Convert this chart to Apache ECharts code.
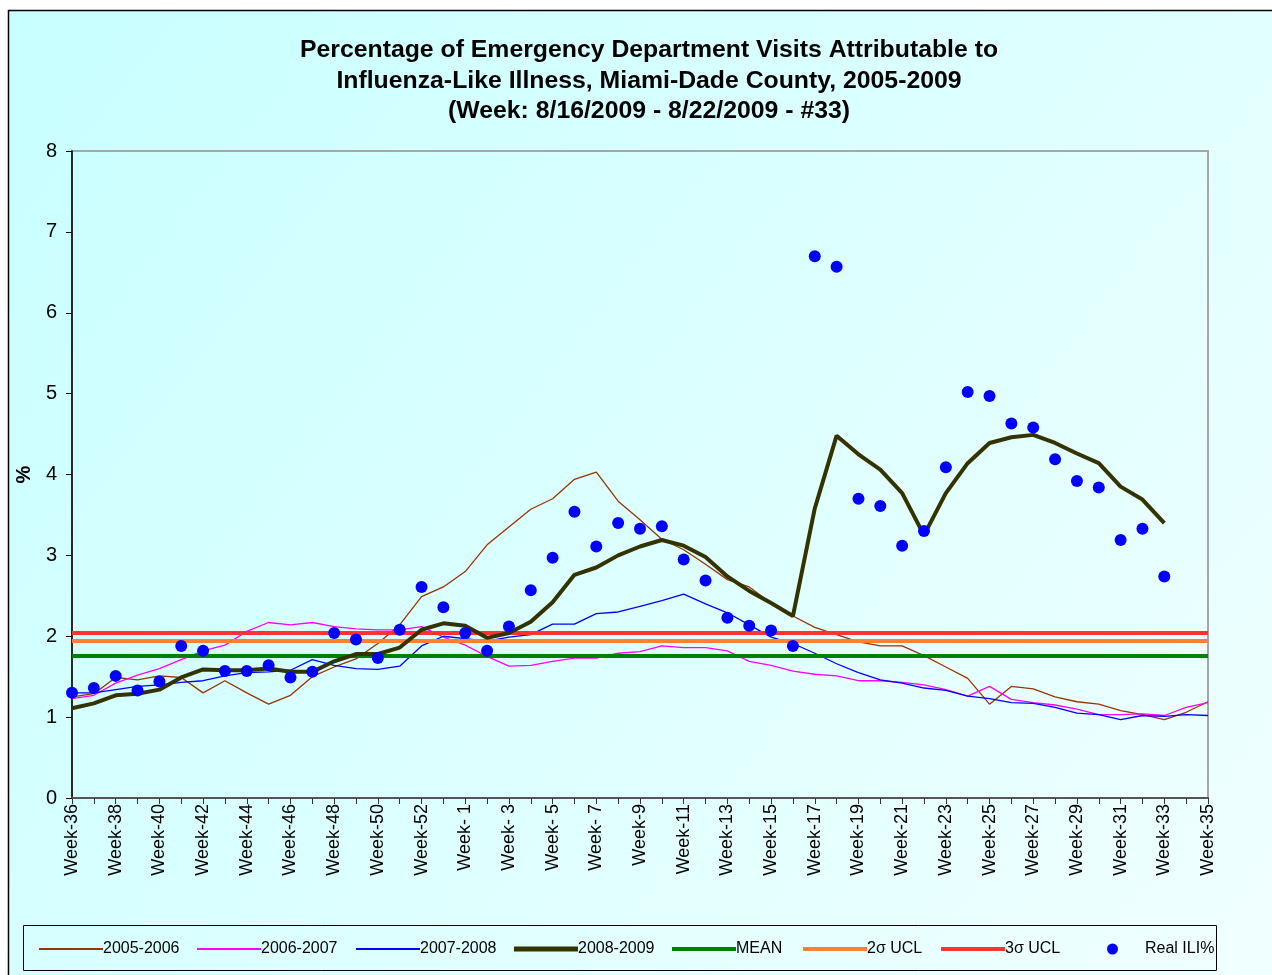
<!DOCTYPE html>
<html>
<head>
<meta charset="utf-8">
<script src="https://cdn.jsdelivr.net/npm/echarts@6/dist/echarts.min.js"></script>
<style>
html,body{margin:0;padding:0;background:#fff;}
#c{width:1272px;height:975px;}
</style>
</head>
<body>
<div id="c"></div>
<script>
const weeks = ['Week-36','Week-37','Week-38','Week-39','Week-40','Week-41','Week-42','Week-43','Week-44','Week-45','Week-46','Week-47','Week-48','Week-49','Week-50','Week-51','Week-52','Week-53',
'Week- 1','Week- 2','Week- 3','Week- 4','Week- 5','Week- 6','Week- 7','Week- 8','Week-9','Week-10','Week-11','Week-12','Week-13','Week-14','Week-15','Week-16','Week-17','Week-18','Week-19','Week-20','Week-21','Week-22','Week-23','Week-24','Week-25','Week-26','Week-27','Week-28','Week-29','Week-30','Week-31','Week-32','Week-33','Week-34','Week-35'];

const s0506 = [1.25,1.29,1.49,1.46,1.51,1.49,1.30,1.45,1.30,1.16,1.27,1.50,1.62,1.72,1.91,2.14,2.49,2.61,2.80,3.13,3.35,3.57,3.70,3.94,4.03,3.67,3.44,3.20,3.07,2.89,2.70,2.61,2.41,2.25,2.11,2.02,1.93,1.88,1.88,1.76,1.62,1.48,1.16,1.38,1.35,1.25,1.19,1.16,1.08,1.03,0.97,1.06,1.19];
const s0607 = [1.23,1.27,1.42,1.52,1.60,1.71,1.82,1.89,2.06,2.17,2.14,2.17,2.12,2.09,2.08,2.08,2.12,1.99,1.89,1.75,1.63,1.64,1.69,1.73,1.73,1.79,1.81,1.88,1.86,1.86,1.82,1.69,1.64,1.57,1.53,1.51,1.45,1.45,1.43,1.40,1.34,1.26,1.38,1.22,1.18,1.15,1.10,1.03,1.03,1.04,1.02,1.12,1.18];
const s0708 = [1.30,1.30,1.34,1.38,1.40,1.43,1.45,1.51,1.55,1.56,1.58,1.71,1.64,1.60,1.59,1.63,1.88,2.00,1.97,1.94,1.99,2.02,2.15,2.15,2.28,2.30,2.37,2.44,2.52,2.40,2.29,2.14,1.99,1.91,1.79,1.66,1.55,1.46,1.42,1.36,1.33,1.26,1.23,1.18,1.17,1.12,1.05,1.03,0.97,1.02,1.01,1.03,1.02];
const s0809 = [1.11,1.17,1.27,1.29,1.34,1.49,1.59,1.58,1.58,1.60,1.56,1.56,1.69,1.78,1.78,1.86,2.08,2.16,2.13,1.98,2.04,2.18,2.42,2.76,2.85,3.00,3.11,3.19,3.12,2.98,2.74,2.56,2.41,2.25,3.58,4.48,4.25,4.06,3.77,3.25,3.77,4.14,4.39,4.46,4.49,4.39,4.26,4.14,3.85,3.69,3.40,null,null];
const realILI = [1.30,1.36,1.51,1.33,1.44,1.88,1.82,1.57,1.57,1.64,1.49,1.56,2.04,1.96,1.73,2.08,2.61,2.36,2.04,1.82,2.12,2.57,2.97,3.54,3.11,3.40,3.33,3.36,2.95,2.69,2.23,2.13,2.07,1.88,6.70,6.57,3.70,3.61,3.12,3.30,4.09,5.02,4.97,4.63,4.58,4.19,3.92,3.84,3.19,3.33,2.74,null,null];
const meanVal = 1.76;
const ucl2 = 1.94;
const ucl3 = 2.04;
const yTicks = [0,1,2,3,4,5,6,7,8];

const FONT = 'Arial, "Liberation Sans", sans-serif';
const chart = echarts.init(document.getElementById('c'), null, {renderer:'canvas'});

function hline(name, val, color, width, z){
  return {
    name: name, type:'line', data: [], symbol:'none', z: z,
    lineStyle:{color:color, width:width}, itemStyle:{color:color},
    markLine:{silent:true, symbol:['none','none'], label:{show:false}, z: z,
      lineStyle:{color:color, width:width, type:'solid'},
      emphasis:{disabled:true},
      data:[{yAxis: val}]}
  };
}
function lineS(name, data, color, width, z){
  return {name:name, type:'line', data:data, symbol:'none', showSymbol:false, z:z,
    lineStyle:{color:color, width:width}, itemStyle:{color:color}, connectNulls:false};
}

const legendItems = [
  {name:'2005-2006', left:34, h:2},
  {name:'2006-2007', left:192, h:2},
  {name:'2007-2008', left:351, h:2},
  {name:'2008-2009', left:509, h:5},
  {name:'MEAN', left:667, h:4},
  {name:'2σ UCL', left:798, h:4},
  {name:'3σ UCL', left:936, h:4}
];
const legendTop = 936;
const legends = legendItems.map(it => ({
  data:[{name:it.name, icon:'rect'}], left: it.left, top: legendTop, itemWidth: 64, itemHeight: it.h,
  textStyle:{fontFamily:FONT, fontSize:16, color:'#000', padding:[0,0,0,-5]},
  selectedMode:false
}));
legends.push({data:[{name:'Real ILI%', icon:'circle'}], left:1102, top:legendTop, itemWidth:11, itemHeight:11,
  textStyle:{fontFamily:FONT, fontSize:16, color:'#000', padding:[0,0,0,22]}, selectedMode:false});

const option = {
  animation:false,
  backgroundColor:'#ffffff',
  graphic:[
    {type:'rect', z:-10, shape:{x:8.5, y:10.5, width:1300, height:1000},
     style:{fill:new echarts.graphic.LinearGradient(0,0,1,1,[{offset:0,color:'#C8FFFF'},{offset:1,color:'#F2FFFF'}]), stroke:'#000', lineWidth:1.5}},
    {type:'rect', z:-5, shape:{x:23.5, y:925.5, width:1193, height:45},
     style:{fill:'transparent', stroke:'#000', lineWidth:1}}
  ],
  title:{
    text:'Percentage of Emergency Department Visits Attributable to\nInfluenza-Like Illness, Miami-Dade County, 2005-2009\n(Week: 8/16/2009 - 8/22/2009 - #33)',
    left:644, top:30, textAlign:'center',
    textStyle:{fontFamily:FONT, fontSize:24.8, fontWeight:'bold', color:'#000', lineHeight:30.5}
  },
  legend: legends,
  grid:{left:72, top:151, right:64, bottom:177, show:true, borderColor:'#A6A6A6', borderWidth:2, backgroundColor:'transparent'},
  xAxis:{
    type:'category', data:weeks, boundaryGap:false,
    axisLine:{show:true, lineStyle:{color:'#555', width:2}},
    axisTick:{show:true, interval:0, length:6, lineStyle:{color:'#333', width:1}},
    axisLabel:{interval:1, rotate:90, fontFamily:FONT, fontSize:18, color:'#000', margin:6},
    splitLine:{show:false}
  },
  yAxis:{
    type:'value', min:0, max:8, interval:1,
    name:'%', nameLocation:'middle', nameRotate:90, nameGap:38,
    nameTextStyle:{fontFamily:FONT, fontSize:20, fontWeight:'bold', color:'#000'},
    axisLine:{show:true, lineStyle:{color:'#000', width:1.5}},
    axisTick:{show:true, length:6, lineStyle:{color:'#000'}},
    axisLabel:{fontFamily:FONT, fontSize:20, color:'#000', margin:15,
      formatter: v => yTicks.indexOf(v) >= 0 ? String(v) : ''},
    splitLine:{show:false}
  },
  series:[
    lineS('2005-2006', s0506, '#993300', 1.3, 2),
    lineS('2006-2007', s0607, '#FF00FF', 1.3, 2),
    lineS('2007-2008', s0708, '#0000FF', 1.3, 2),
    hline('MEAN', meanVal, '#008000', 4, 3),
    hline('2σ UCL', ucl2, '#FF8033', 4, 3),
    hline('3σ UCL', ucl3, '#FF3333', 4, 3),
    lineS('2008-2009', s0809, '#333300', 4, 4),
    {name:'Real ILI%', type:'scatter', data:realILI, symbol:'circle', symbolSize:12, z:5,
     itemStyle:{color:'#0000FF', opacity:1}}
  ]
};
chart.setOption(option);
</script>
</body>
</html>
